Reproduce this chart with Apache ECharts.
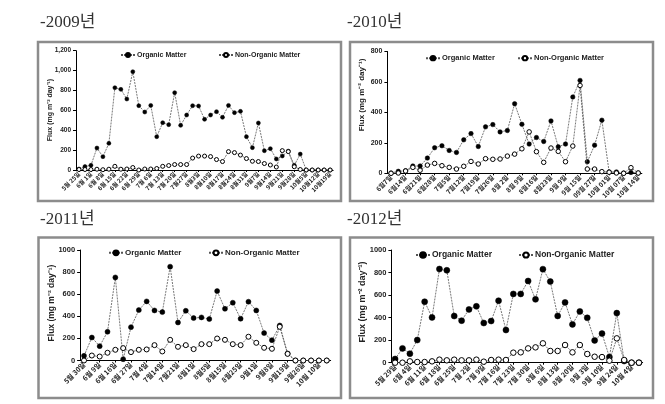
<!DOCTYPE html>
<html><head><meta charset="utf-8">
<script src="https://cdn.jsdelivr.net/npm/echarts@6/dist/echarts.min.js"></script>
<style>html,body{margin:0;padding:0;background:#fff}#c{width:665px;height:404px}</style>
</head><body><div id="c"></div>
<script>
// ---- data ----
const labels2009 = ['5월 25일','6월 1일','6월 8일','6월 15일','6월 22일','6월 29일','7월 6일','7월 13일','7월 20일','7월27일','8월3일','8월10일','8월17일','8월24일','8월31일','9월7일','9월14일','9월21일','9월28일','10월5일','10월12일','10월19일'];
const organic2009 = [10,35,47,221,134,268,828,811,714,989,647,583,650,335,476,456,778,449,553,647,644,510,553,587,530,650,577,590,335,225,473,194,215,111,141,190,47,160,0,0,0,0,0];
const nonOrganic2009 = [5,5,5,8,3,8,37,8,10,25,0,10,10,15,37,45,55,55,55,120,140,140,135,105,85,185,175,150,115,88,85,65,50,30,195,185,33,5,0,0,0,0,0];

const labels2010 = ['6월7일','6월14일','6월21일','6월28일','7월5일','7월12일','7월19일','7월26일','8월 2일','8월 9일','8월16일','8월23일','9월 9일','9월 15일','09월 27일','10월 01일','10월 07일','10월 14일'];
const organic2010 = [2,13,17,48,48,100,168,181,150,137,220,261,176,305,320,272,281,457,322,192,235,209,344,174,192,501,610,76,185,349,9,9,2,6,2];
const nonOrganic2010 = [0,2,15,39,20,54,65,50,39,28,46,78,61,96,92,94,113,126,161,272,142,72,166,144,76,179,577,28,28,11,7,2,0,37,2];

const labels2011 = ['5월 30일','6월 9일','6월 16일','6월 27일','7월 4일','7월14일','7월21일','8월1일','8월5일','8월15일','8월25일','9월1일','9월8일','9월19일','9월26일','10월 10일'];
const organic2011 = [42,208,130,260,752,12,302,456,535,453,438,849,344,450,384,390,375,628,468,523,378,532,453,248,184,317,63,0,0,0,0,0];
const nonOrganic2011 = [0,45,36,70,97,112,76,97,100,139,82,187,124,139,103,148,148,199,187,148,139,215,160,115,106,305,60,0,0,0,0,0];

const labels2012 = ['5월 29일','6월 4일','6월 11일','6월 18일','6월 25일','7월 2일','7월 9일','7월 16일','7월 23일','7월 30일','8월 6일','8월 13일','8월 20일','9월 3일','9월 10일','9월 24일','10월 4일'];
const organic2012 = [33,127,80,201,541,402,831,820,414,373,473,500,352,370,550,290,610,610,725,562,830,720,415,535,340,455,398,198,258,50,440,15,0,0];
const nonOrganic2012 = [0,0,12,6,6,12,27,21,27,21,21,27,9,24,27,24,89,92,127,136,172,104,104,157,92,157,77,53,50,18,216,24,0,0];

const titles = ['-2009년','-2010년','-2011년','-2012년'];
const yMax = [1200, 800, 1000, 1000];
const seriesNames = ['Organic Matter','Non-Organic Matter'];
const axisTitle = 'Flux (mg m⁻² day⁻¹)';

// ---- layout / style ----
const panels = [
  {labels:labels2009, om:organic2009, nom:nonOrganic2009, max:yMax[0], comma:true,
   grid:{left:76, top:50.7, width:43*5.98, height:119.3},
   box:[38,42,303,159], title:[40,23], name:[50,110], fs:{y:6.5,x:6,name:7,leg:7}, sym:[4,4],
   leg:[[120,56],[218,56]]},
  {labels:labels2010, om:organic2010, nom:nonOrganic2010, max:yMax[1], comma:false,
   grid:{left:387.4, top:51.5, width:35*7.27, height:121.8},
   box:[350,42,303,159], title:[347,23], name:[362,95], fs:{y:7,x:6.5,name:8,leg:7.5}, sym:[4.5,4.5],
   leg:[[425,59],[517,59]]},
  {labels:labels2011, om:organic2011, nom:nonOrganic2011, max:yMax[2], comma:false,
   grid:{left:80.1, top:250, width:32*7.83, height:110.5},
   box:[38.5,237.5,302.5,160.5], title:[40,220], name:[52,303], fs:{y:7.5,x:7,name:8.5,leg:8}, sym:[5,5],
   leg:[[108,254],[208,254]]},
  {labels:labels2012, om:organic2012, nom:nonOrganic2012, max:yMax[3], comma:false,
   grid:{left:391.4, top:250, width:34*7.39, height:112.7},
   box:[350,237.5,303,160.5], title:[347,220], name:[363,302], fs:{y:7.5,x:7,name:9,leg:8.5}, sym:[6,5.5],
   leg:[[415,256],[518,256]]}
];

const NARROW = "'Liberation Sans Narrow','Liberation Sans',Arial,sans-serif";
const CJK = "'Noto Sans CJK KR','Liberation Sans Narrow',sans-serif";

const option = {animation:false, backgroundColor:'#fff',
  grid:[], xAxis:[], yAxis:[], series:[], legend:[], graphic:[]};

panels.forEach((p, k) => {
  option.grid.push(Object.assign({containLabel:false}, p.grid));
  const cats = p.om.map((_, i) => 'p' + i);
  option.xAxis.push({type:'category', gridIndex:k, data:cats, boundaryGap:true,
    axisLine:{lineStyle:{color:'#000', width:1}},
    axisTick:{show:true, length:2, interval:1, alignWithLabel:true, lineStyle:{color:'#000'}},
    axisLabel:{interval:1, rotate:45, margin:3, fontSize:p.fs.x, fontWeight:'bold', color:'#222', fontFamily:CJK,
      formatter:(v, i) => (i % 2 === 0 ? (p.labels[i/2] || '') : '')},
    splitLine:{show:false}});
  option.yAxis.push({type:'value', gridIndex:k, min:0, max:p.max, interval:200,
    axisLine:{show:true, lineStyle:{color:'#000', width:1}},
    axisTick:{show:true, length:3, lineStyle:{color:'#000'}},
    axisLabel:{margin:5, fontSize:p.fs.y, fontWeight:'bold', color:'#222', fontFamily:NARROW,
      formatter:v => p.comma ? v.toLocaleString('en-US') : String(v)},
    splitLine:{show:false}});
  const idOm = seriesNames[0] + '#' + k, idNom = seriesNames[1] + '#' + k;
  option.series.push({name:idOm, type:'line', xAxisIndex:k, yAxisIndex:k, data:p.om,
    symbol:'circle', symbolSize:p.sym[0], showSymbol:true, showAllSymbol:true,
    lineStyle:{color:'#555', width:0.8, type:[2,1]},
    itemStyle:{color:'#000', borderColor:'#000', borderWidth:0.5}, z:2});
  option.series.push({name:idNom, type:'line', xAxisIndex:k, yAxisIndex:k, data:p.nom,
    symbol:'circle', symbolSize:p.sym[1], showSymbol:true, showAllSymbol:true,
    lineStyle:{color:'#555', width:0.8, type:[2,1]},
    itemStyle:{color:'#fff', borderColor:'#000', borderWidth:1}, z:3});
  [idOm, idNom].forEach((nm, j) => {
    option.legend.push({data:[nm], left:p.leg[j][0], top:p.leg[j][1] - p.fs.leg*0.65, padding:0,
      itemWidth:14, itemHeight:p.sym[j] + 1, selectedMode:false,
      formatter:name => name.split('#')[0],
      textStyle:{fontSize:p.fs.leg, fontWeight:'bold', color:'#222', fontFamily:NARROW, padding:[0,0,0,-3]}});
  });
  option.graphic.push({type:'rect', shape:{x:p.box[0], y:p.box[1], width:p.box[2], height:p.box[3]},
    style:{fill:'none', stroke:'#8c8c8c', lineWidth:2.5}, silent:true});
  option.graphic.push({type:'text', x:p.title[0], y:p.title[1],
    style:{text:titles[k], fill:'#333', font:"17px 'Liberation Serif','Noto Sans CJK KR',serif", align:'left', verticalAlign:'middle'}});
  option.graphic.push({type:'text', x:p.name[0], y:p.name[1], rotation:Math.PI/2,
    style:{text:axisTitle, fill:'#222', font:"bold " + p.fs.name + "px " + NARROW, align:'center', verticalAlign:'middle'}});
});

const chart = echarts.init(document.getElementById('c'), null, {renderer:'canvas'});
chart.setOption(option);
</script>
</body></html>
